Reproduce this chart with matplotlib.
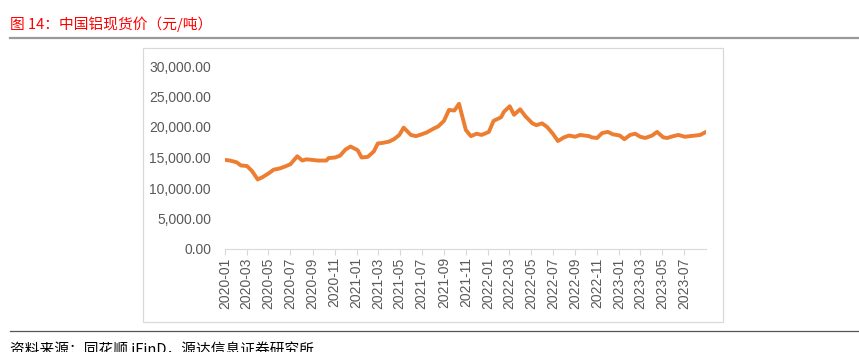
import matplotlib.pyplot as plt
import matplotlib.dates as mdates
import matplotlib.ticker as mticker
import pandas as pd

plt.rcParams['font.family'] = ['Liberation Sans', 'Noto Sans CJK SC', 'DejaVu Sans']

# 日期（半月）
dates = pd.to_datetime([
    "2020-01-02", "2020-01-15", "2020-02-03", "2020-02-14", "2020-03-02", "2020-03-16",
    "2020-04-01", "2020-04-15", "2020-05-04", "2020-05-15", "2020-06-01", "2020-06-15",
    "2020-07-01", "2020-07-20", "2020-08-03", "2020-08-14", "2020-09-01", "2020-09-15",
    "2020-10-09", "2020-10-15", "2020-11-02", "2020-11-16", "2020-12-01", "2020-12-15",
    "2021-01-04", "2021-01-15", "2021-02-01", "2021-02-18", "2021-03-01", "2021-03-15",
    "2021-04-01", "2021-04-15", "2021-04-30", "2021-05-12", "2021-06-01", "2021-06-15",
    "2021-07-01", "2021-07-15", "2021-08-02", "2021-08-16", "2021-09-01", "2021-09-15",
    "2021-09-30", "2021-10-13", "2021-11-01", "2021-11-15", "2021-12-01", "2021-12-15",
    "2022-01-04", "2022-01-17", "2022-02-07", "2022-02-15", "2022-03-03", "2022-03-15",
    "2022-04-01", "2022-04-15", "2022-05-05", "2022-05-16", "2022-06-01", "2022-06-15",
    "2022-07-01", "2022-07-15", "2022-08-01", "2022-08-15", "2022-09-01", "2022-09-15",
    "2022-10-10", "2022-10-17", "2022-11-01", "2022-11-15", "2022-12-01", "2022-12-15",
    "2023-01-03", "2023-01-16", "2023-02-01", "2023-02-15", "2023-03-01", "2023-03-15",
    "2023-04-03", "2023-04-17", "2023-05-04", "2023-05-15", "2023-06-01", "2023-06-15",
    "2023-07-03", "2023-07-17", "2023-08-01", "2023-08-15", "2023-08-31",
])

# 铝现货价（元/吨）
price = [
    14600, 14500, 14200, 13700, 13600, 12800,
    11400, 11800, 12500, 13000, 13200, 13500,
    13900, 15200, 14500, 14700, 14600, 14500,
    14500, 14900, 15000, 15300, 16300, 16800,
    16200, 15000, 15100, 16000, 17300, 17400,
    17600, 18000, 18700, 19900, 18700, 18500,
    18800, 19100, 19700, 20100, 21000, 22800,
    22700, 23800, 19500, 18500, 18900, 18700,
    19200, 21000, 21600, 22500, 23400, 22000,
    22900, 21800, 20600, 20300, 20600, 20000,
    18900, 17700, 18300, 18600, 18400, 18700,
    18500, 18300, 18200, 19000, 19200, 18800,
    18600, 18000, 18700, 18900, 18400, 18200,
    18600, 19200, 18300, 18200, 18500, 18700,
    18400, 18500, 18600, 18700, 19200,
]

W, H = 859, 352
fig = plt.figure(figsize=(W / 100, H / 100), dpi=100)

def fx(px):
    return px / W

def fy(py):
    return 1 - py / H

# 标题与分隔线
fig.text(fx(10), fy(24), "图 14：中国铝现货价（元/吨）", color="#ff0000", fontsize=10.6,
         family=['Noto Sans CJK SC', 'DejaVu Sans'], va="center", ha="left")
fig.add_artist(plt.Line2D([fx(10), fx(859)], [fy(38), fy(38)], color="#9a9a9a", lw=1.6))
fig.add_artist(plt.Line2D([fx(10), fx(859)], [fy(331), fy(331)], color="#555555", lw=0.9))
fig.text(fx(10), fy(342), "资料来源：同花顺 iFinD，源达信息证券研究所", color="#000000", fontsize=10.6,
         family=['Noto Sans CJK SC', 'DejaVu Sans'], va="top", ha="left")

# 图表外框
fig.add_artist(plt.Rectangle((fx(143), fy(322)), fx(723 - 143), (322 - 48) / H,
                             fill=False, edgecolor="#d9d9d9", lw=0.9))

ax = fig.add_axes([fx(225), fy(249), fx(706 - 225), (249 - 66) / H])
ax.plot(dates, price, color="#ED7D31", lw=2.8, solid_joinstyle="round")

ax.set_ylim(0, 30000)
ax.set_xlim(pd.Timestamp("2020-01-01"), pd.Timestamp("2023-08-31"))
ax.yaxis.set_major_locator(mticker.MultipleLocator(5000))
ax.yaxis.set_major_formatter(mticker.FuncFormatter(lambda v, p: f"{v:,.2f}"))
ax.xaxis.set_major_locator(mdates.MonthLocator(bymonth=[1, 3, 5, 7, 9, 11]))
ax.xaxis.set_major_formatter(mdates.DateFormatter("%Y-%m"))

for s in ["top", "right", "left"]:
    ax.spines[s].set_visible(False)
ax.spines["bottom"].set_color("#d9d9d9")
ax.tick_params(axis="y", length=0, labelsize=10, labelcolor="#595959", pad=10)
ax.tick_params(axis="x", length=4, color="#d9d9d9", labelsize=10, labelcolor="#595959",
               labelrotation=90, pad=2)

fig.savefig("out.png", dpi=100)
